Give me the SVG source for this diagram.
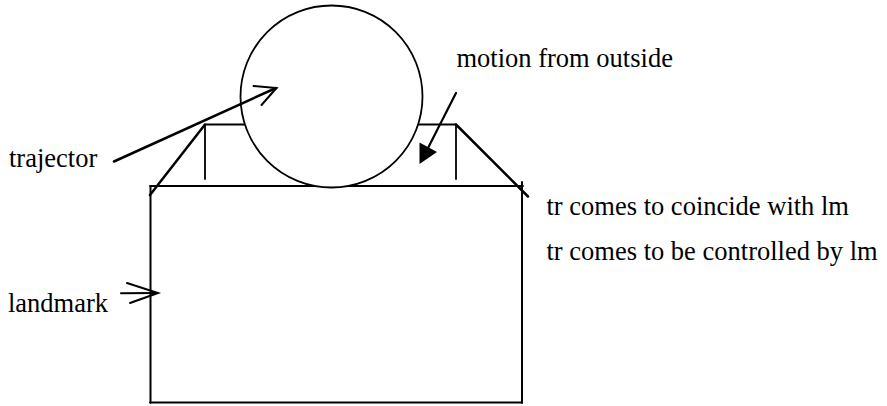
<svg xmlns="http://www.w3.org/2000/svg" width="887" height="406" viewBox="0 0 887 406">
<style>
.t{font-family:"Liberation Serif","Times New Roman",serif;font-size:26.5px;fill:#000}
.ln{fill:none;stroke:#000;stroke-linecap:round;stroke-linejoin:miter}
</style>
<rect width="887" height="406" fill="#fff"/>
<g id="landmark">
<path class="ln" stroke-width="2" d="M150,186 L523,186 M150.5,186 L150.5,403 M150,402.5 L522,402.5 M522,182 L522,403"/>
</g>
<g id="path-shape">
<path class="ln" stroke-width="2.5" d="M150,195 L205,124.5 M456,124.5 L528,196.5"/>
<path class="ln" stroke-width="1.8" d="M205,124.5 L456,124.5 M205,124.5 L205,179 M456,124.5 L456,179"/>
</g>
<g id="trajector">
<circle cx="331.5" cy="96.5" r="91" fill="#fff" stroke="#000" stroke-width="1.8"/>
</g>
<g id="connectors">
<path class="ln" stroke-width="2.5" d="M114,161.5 L276,88"/>
<path class="ln" stroke-width="2" d="M253.5,86 L276.5,88 L261.5,105"/>
<path class="ln" stroke-width="2.2" d="M456,93 L428,148"/>
<polygon points="419.5,142.5 419.5,164 437,152" fill="#000"/>
<path class="ln" stroke-width="2" d="M121,293.3 L157,293"/>
<path class="ln" stroke-width="2" d="M127,283 L158,293 L130,303"/>
</g>
<g id="labels">
<text class="t" x="9" y="166.5">trajector</text>
<text class="t" x="456.5" y="67">motion from outside</text>
<text class="t" x="8" y="311.5">landmark</text>
<text class="t" x="546.5" y="215">tr comes to coincide with lm</text>
<text class="t" x="546.5" y="260">tr comes to be controlled by lm</text>
</g>
</svg>
